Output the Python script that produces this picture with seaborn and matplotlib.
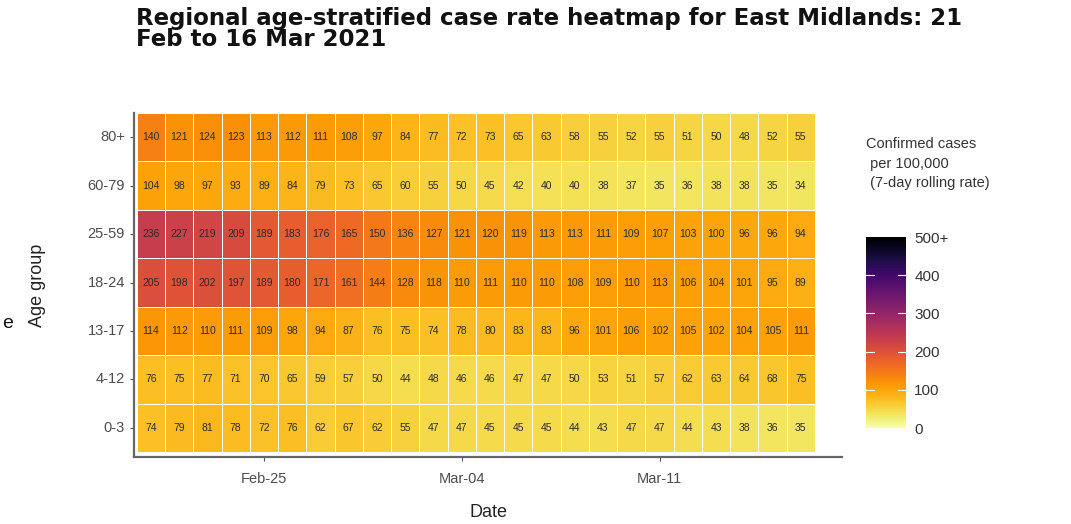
import matplotlib
matplotlib.use("Agg")
import matplotlib.pyplot as plt
import numpy as np
import pandas as pd
import seaborn as sns

# 7-day rolling case rate per 100,000, East Midlands, 21 Feb - 16 Mar 2021
dates = pd.date_range("2021-02-21", "2021-03-16", freq="D")
age_groups = ["80+", "60-79", "25-59", "18-24", "13-17", "4-12", "0-3"]
rate_80plus = [140, 121, 124, 123, 113, 112, 111, 108, 97, 84, 77, 72, 73, 65, 63, 58, 55, 52, 55, 51, 50, 48, 52, 55]
rate_60_79 = [104, 98, 97, 93, 89, 84, 79, 73, 65, 60, 55, 50, 45, 42, 40, 40, 38, 37, 35, 36, 38, 38, 35, 34]
rate_25_59 = [236, 227, 219, 209, 189, 183, 176, 165, 150, 136, 127, 121, 120, 119, 113, 113, 111, 109, 107, 103, 100, 96, 96, 94]
rate_18_24 = [205, 198, 202, 197, 189, 180, 171, 161, 144, 128, 118, 110, 111, 110, 110, 108, 109, 110, 113, 106, 104, 101, 95, 89]
rate_13_17 = [114, 112, 110, 111, 109, 98, 94, 87, 76, 75, 74, 78, 80, 83, 83, 96, 101, 106, 102, 105, 102, 104, 105, 111]
rate_4_12 = [76, 75, 77, 71, 70, 65, 59, 57, 50, 44, 48, 46, 46, 47, 47, 50, 53, 51, 57, 62, 63, 64, 68, 75]
rate_0_3 = [74, 79, 81, 78, 72, 76, 62, 67, 62, 55, 47, 47, 45, 45, 45, 44, 43, 47, 47, 44, 43, 38, 36, 35]
date_ticks = ["2021-02-25", "2021-03-04", "2021-03-11"]
date_tick_labels = ["Feb-25", "Mar-04", "Mar-11"]
cbar_ticks = [0, 100, 200, 300, 400, 500]
cbar_labels = ["0", "100", "200", "300", "400", "500+"]

df = pd.DataFrame([rate_80plus, rate_60_79, rate_25_59, rate_18_24,
                   rate_13_17, rate_4_12, rate_0_3],
                  index=age_groups, columns=dates)

plt.rcParams["font.family"] = ["Liberation Sans", "DejaVu Sans"]

fig = plt.figure(figsize=(10.71, 5.24), dpi=100)
ax = fig.add_axes([0.1251, 0.1279, 0.6611, 0.6565])
cax = fig.add_axes([0.8086, 0.1832, 0.0373, 0.3645])

sns.heatmap(df, ax=ax, cbar_ax=cax, cmap="inferno_r", vmin=0, vmax=500,
            annot=True, fmt="d", annot_kws={"fontsize": 7.5, "color": "#2b2b2b"},
            linewidths=0.6, linecolor="white",
            cbar_kws={"ticks": cbar_ticks})

ax.set_xlim(-0.1, 24.96)
ax.set_ylim(7.1, 0)

tick_pos = [list(dates.strftime("%Y-%m-%d")).index(d) + 0.5 for d in date_ticks]
ax.set_xticks(tick_pos)
ax.set_xticklabels(date_tick_labels, rotation=0, fontsize=10.5, color="#4d4d4d")
ax.set_yticks(np.arange(len(age_groups)) + 0.5)
ax.set_yticklabels(age_groups, rotation=0, fontsize=10.5, color="#4d4d4d")
ax.tick_params(length=3, color="#555555", width=0.8)
ax.tick_params(axis="x", pad=8)

for side in ["left", "bottom"]:
    ax.spines[side].set_visible(True)
    ax.spines[side].set_color("#666666")
    ax.spines[side].set_linewidth(1.6)

ax.set_xlabel("Date", fontsize=13, color="#222222", labelpad=13)
ax.set_ylabel("Age group", fontsize=13, color="#222222", labelpad=30)

cax.set_yticklabels(cbar_labels, fontsize=11, color="#333333")
cax.tick_params(length=0, pad=6)
for t in cbar_ticks[1:-1]:
    cax.axhline(t, color="white", linewidth=0.8, xmin=0, xmax=0.2)
    cax.axhline(t, color="white", linewidth=0.8, xmin=0.8, xmax=1)
fig.text(0.8086, 0.738, "Confirmed cases\n per 100,000\n (7-day rolling rate)",
         fontsize=10.5, color="#333333", va="top", ha="left", linespacing=1.5)

fig.text(0.127, 0.902, "Regional age-stratified case rate heatmap for East Midlands: 21\nFeb to 16 Mar 2021",
         family="DejaVu Sans", fontsize=16.5, fontweight="bold", color="#111111",
         va="bottom", ha="left", linespacing=0.9)

fig.text(0.002, 0.375, "e", fontsize=14, color="#111111")

fig.savefig("out.png", dpi=100)
